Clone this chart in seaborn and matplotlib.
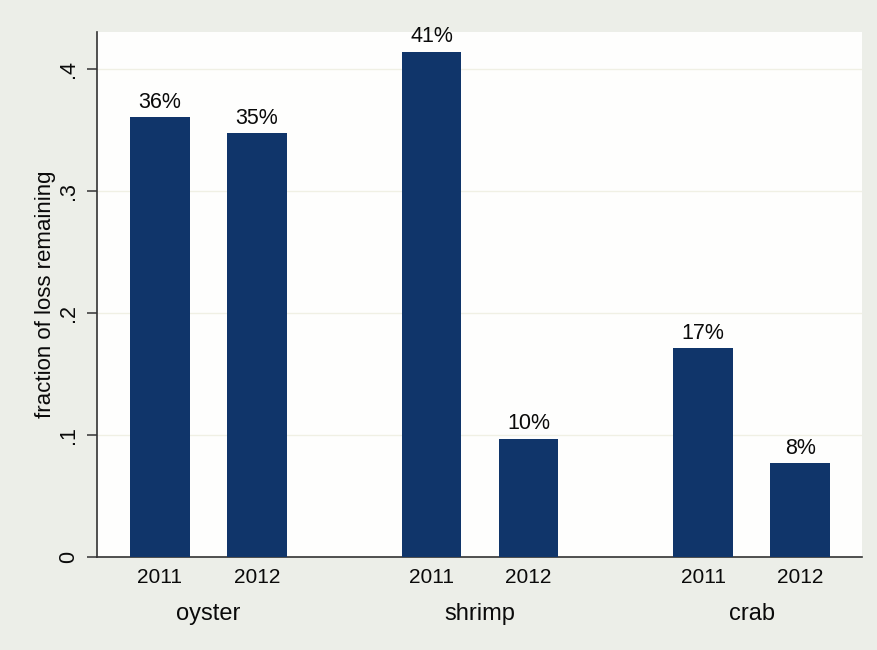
import matplotlib
matplotlib.use("Agg")
import matplotlib.pyplot as plt
import matplotlib.transforms as mtransforms
import seaborn as sns
import pandas as pd
import numpy as np

# ---- data ----
species = ["oyster", "shrimp", "crab"]
years = ["2011", "2012"]
values_2011 = [0.360, 0.414, 0.171]
values_2012 = [0.347, 0.097, 0.077]
y_ticks = [0, 0.1, 0.2, 0.3, 0.4]
y_tick_labels = ["0", ".1", ".2", ".3", ".4"]
y_label = "fraction of loss remaining"

# ---- build table ----
group_step = 2.8
rows = []
for gi, sp in enumerate(species):
    for yi, (yr, vals) in enumerate(zip(years, [values_2011, values_2012])):
        rows.append({"species": sp, "year": yr, "value": vals[gi],
                     "pos": gi * group_step + yi})
df = pd.DataFrame(rows)

sns.set_theme(style="white")
plt.rcParams["font.family"] = ["Liberation Sans", "DejaVu Sans"]

fig = plt.figure(figsize=(8.77, 6.5), dpi=100)
fig.patch.set_facecolor("#eceee8")
ax = fig.add_axes([97 / 877, 1 - 557 / 650, (862 - 97) / 877, (557 - 32) / 650])
ax.set_facecolor("#fefefd")

navy = "#10356a"
txt = "#0a0a0a"
sns.barplot(data=df, x="pos", y="value", native_scale=True, width=0.615,
            color=navy, saturation=1, errorbar=None, ax=ax, zorder=3,
            edgecolor=navy, linewidth=0)

for cont in ax.containers:
    labels = [f"{round(v * 100):.0f}%" for v in cont.datavalues]
    ax.bar_label(cont, labels=labels, padding=3, fontsize=15.5, color=txt)

ax.set_xlim(-0.646, 7.236)
ax.set_ylim(0, 0.43)

ax.set_xticks(df["pos"])
ax.set_xticklabels(df["year"], fontsize=15, color=txt)
ax.tick_params(axis="x", length=0, pad=8)

ax.set_yticks(y_ticks)
ax.set_yticklabels(y_tick_labels, rotation=90, va="center", fontsize=15.5,
                   color=txt)
ax.tick_params(axis="y", left=True, length=7, width=1.1, color="#333333", pad=6)

ax.set_xlabel("")
ax.set_ylabel(y_label, fontsize=16, color=txt)
ax.yaxis.set_label_coords(-0.054, 0.5)

ax.yaxis.grid(True, color="#f0f0e4", linewidth=1.0, zorder=0)
ax.xaxis.grid(False)

for s in ["top", "right"]:
    ax.spines[s].set_visible(False)
for s in ["left", "bottom"]:
    ax.spines[s].set_color("#333333")
    ax.spines[s].set_linewidth(1.2)

trans = mtransforms.blended_transform_factory(ax.transData, ax.transAxes)
for gi, sp in enumerate(species):
    cx = gi * group_step + 0.5
    ax.text(cx, -0.108, sp, transform=trans, ha="center", va="center",
            fontsize=17, color=txt)

fig.savefig("out.png", dpi=100, facecolor=fig.get_facecolor())
